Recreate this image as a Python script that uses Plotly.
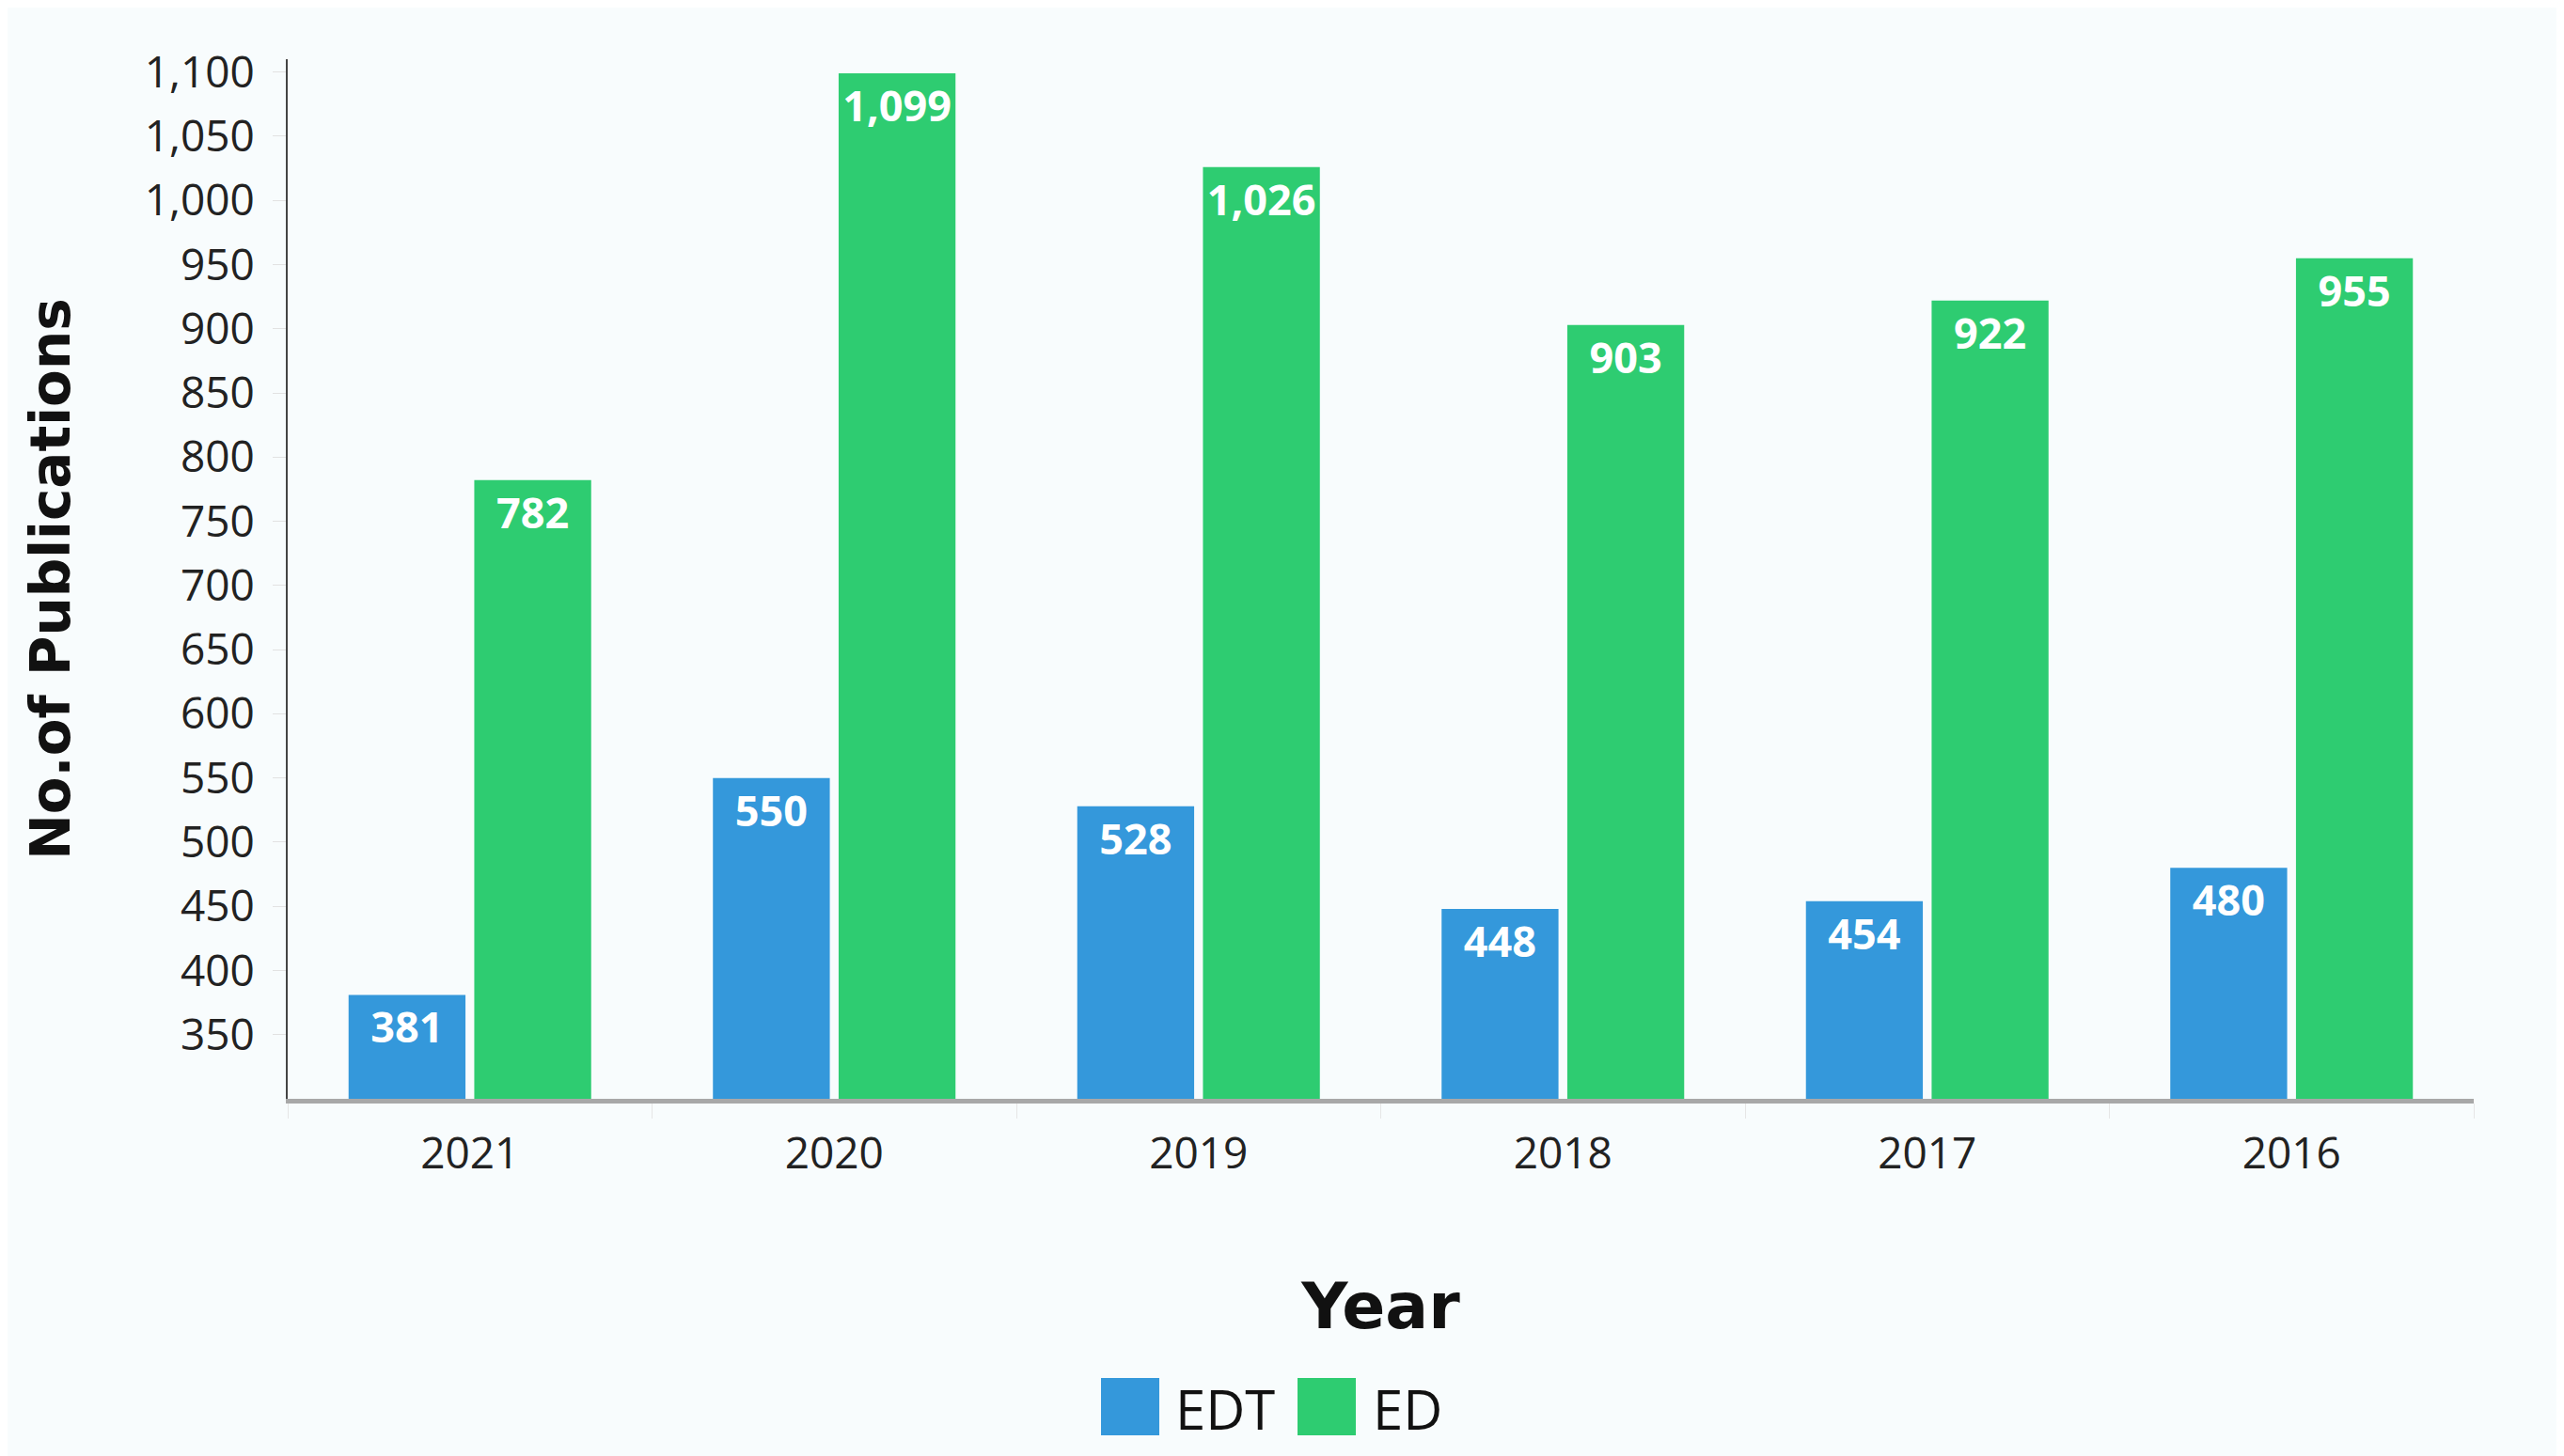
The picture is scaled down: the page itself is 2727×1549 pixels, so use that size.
import plotly.graph_objects as go

years = ["2021", "2020", "2019", "2018", "2017", "2016"]
edt = [381, 550, 528, 448, 454, 480]
ed = [782, 1099, 1026, 903, 922, 955]
series_names = ["EDT", "ED"]
colors = ["#3498db", "#2ecc71"]

W, H = 2727, 1549
ml, mr, mt, mb = 298, 104, 55, 388
pw, ph = W - ml - mr, H - mt - mb

def px_x(px):
    return (px - ml) / pw

def px_y(py):
    return (H - mb - py) / ph

fig = go.Figure()
for name, vals, col in zip(series_names, [edt, ed], colors):
    fig.add_trace(go.Bar(
        x=years, y=vals, name=name, marker_color=col,
        marker_line_width=0,
        texttemplate="%{y:,}", textposition="inside", textangle=0,
        insidetextanchor="end", constraintext="none",
        textfont=dict(family="Open Sans", size=45, color="white", weight="bold"),
        showlegend=False,
    ))

fig.update_layout(
    width=W, height=H,
    margin=dict(l=ml, r=mr, t=mt, b=mb),
    paper_bgcolor="#f8fcfd", plot_bgcolor="#f8fcfd",
    barmode="group", bargap=0.31, bargroupgap=0.07,
    font=dict(family="Open Sans", color="#222"),
)
fig.update_yaxes(
    range=[300, 1110], tickvals=list(range(350, 1101, 50)),
    tickformat=",", showgrid=False, zeroline=False,
    showline=True, linecolor="#444", linewidth=2,
    ticks="outside", ticklen=14, tickcolor="#e2e2e2", ticklabelstandoff=10,
    tickfont=dict(size=46, family="Open Sans", color="#222"),
    title=dict(text="No.of Publications", font=dict(size=58, family="DejaVu Sans", weight="bold", color="#111"), standoff=60),
)
fig.update_xaxes(
    showgrid=False, showline=True, linecolor="#a8a8a8", linewidth=5,
    ticks="outside", tickson="boundaries", ticklen=16, tickcolor="#e6e6e6",
    ticklabelstandoff=14,
    tickfont=dict(size=46, family="Open Sans", color="#222"),
    title=dict(text="Year", font=dict(size=68, family="DejaVu Sans", weight="bold", color="#111"), standoff=112),
)

# legend drawn as squares + labels
leg = [(1163, 1225, 1240), (1372, 1434, 1450)]
for (x0, x1, xt), name, col in zip(leg, series_names, colors):
    fig.add_shape(type="rect", xref="paper", yref="paper",
                  x0=px_x(x0), x1=px_x(x1), y0=px_y(1519), y1=px_y(1458),
                  fillcolor=col, line_width=0)
    fig.add_annotation(xref="paper", yref="paper", x=px_x(xt), y=px_y(1490),
                       text=name, showarrow=False, xanchor="left", yanchor="middle",
                       font=dict(size=58, family="Open Sans", color="#111"))

fig.write_html("out.html")
